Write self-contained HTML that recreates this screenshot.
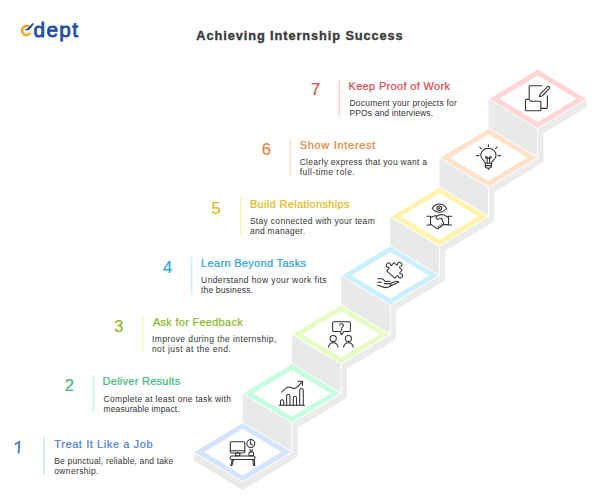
<!DOCTYPE html>
<html><head><meta charset="utf-8"><style>
html,body{margin:0;padding:0;background:#fff;width:600px;height:500px;overflow:hidden;position:relative}
body{font-family:"Liberation Sans",sans-serif}
svg{position:absolute;left:0;top:0}
.num{position:absolute;width:40px;text-align:center;font-size:16.5px;line-height:20px;-webkit-text-stroke:0.2px currentColor}
.ttl{position:absolute;white-space:nowrap;font-size:11px;line-height:14px;-webkit-text-stroke:0.22px currentColor}
.dsc{position:absolute;white-space:nowrap;font-size:8.5px;line-height:10px;color:#333}
.hdr{position:absolute;left:0;width:600px;top:28px;text-align:center;font-size:12.8px;font-weight:bold;color:#3a3a3a;line-height:16px;letter-spacing:0.9px;-webkit-text-stroke:0.35px #3a3a3a}
.logo{position:absolute;left:33.5px;top:17.6px;font-size:20.8px;font-weight:normal;color:#1b4ea6;line-height:24px;letter-spacing:1.35px;-webkit-text-stroke:0.8px #1b4ea6}
</style></head><body>
<svg width="600" height="500" viewBox="0 0 600 500">
<polygon points="537.77,128.44 586.94,98.76 586.94,106.96 543.47,133.20 543.47,162.41 537.77,165.85 537.77,157.65" fill="#ebebeb"/>
<polygon points="488.60,98.76 537.77,128.44 537.77,157.65 488.60,127.97" fill="#e9e9e9"/>
<line x1="537.77" y1="128.44" x2="537.77" y2="157.65" stroke="#fff" stroke-width="1.0"/>
<polygon points="488.60,98.76 537.77,69.08 586.94,98.76 537.77,128.44" fill="#fff" stroke="#fff" stroke-width="1.0" stroke-linejoin="miter"/>
<path d="M489.47,98.76 L537.77,69.61 L586.07,98.76 L537.77,127.91 Z M537.77,122.07 L576.39,98.76 L537.77,75.45 L499.15,98.76 Z" fill="#ffd5d6" fill-rule="evenodd"/>
<polygon points="488.60,187.33 537.77,157.65 537.77,165.85 494.30,192.09 494.30,221.30 488.60,224.74 488.60,216.54" fill="#ebebeb"/>
<polygon points="439.43,157.65 488.60,187.33 488.60,216.54 439.43,186.86" fill="#e9e9e9"/>
<line x1="488.60" y1="187.33" x2="488.60" y2="216.54" stroke="#fff" stroke-width="1.0"/>
<polygon points="439.43,157.65 488.60,127.97 537.77,157.65 488.60,187.33" fill="#fff" stroke="#fff" stroke-width="1.0" stroke-linejoin="miter"/>
<path d="M440.30,157.65 L488.60,128.50 L536.90,157.65 L488.60,186.80 Z M488.60,180.96 L527.22,157.65 L488.60,134.34 L449.98,157.65 Z" fill="#fee2c9" fill-rule="evenodd"/>
<polygon points="439.43,246.22 488.60,216.54 488.60,224.74 445.13,250.98 445.13,280.19 439.43,283.63 439.43,275.43" fill="#ebebeb"/>
<polygon points="390.26,216.54 439.43,246.22 439.43,275.43 390.26,245.75" fill="#e9e9e9"/>
<line x1="439.43" y1="246.22" x2="439.43" y2="275.43" stroke="#fff" stroke-width="1.0"/>
<polygon points="390.26,216.54 439.43,186.86 488.60,216.54 439.43,246.22" fill="#fff" stroke="#fff" stroke-width="1.0" stroke-linejoin="miter"/>
<path d="M391.13,216.54 L439.43,187.39 L487.73,216.54 L439.43,245.69 Z M439.43,239.85 L478.05,216.54 L439.43,193.23 L400.81,216.54 Z" fill="#fff3ad" fill-rule="evenodd"/>
<polygon points="390.26,305.11 439.43,275.43 439.43,283.63 395.96,309.87 395.96,339.08 390.26,342.52 390.26,334.32" fill="#ebebeb"/>
<polygon points="341.09,275.43 390.26,305.11 390.26,334.32 341.09,304.64" fill="#e9e9e9"/>
<line x1="390.26" y1="305.11" x2="390.26" y2="334.32" stroke="#fff" stroke-width="1.0"/>
<polygon points="341.09,275.43 390.26,245.75 439.43,275.43 390.26,305.11" fill="#fff" stroke="#fff" stroke-width="1.0" stroke-linejoin="miter"/>
<path d="M341.96,275.43 L390.26,246.28 L438.56,275.43 L390.26,304.58 Z M390.26,298.74 L428.88,275.43 L390.26,252.12 L351.64,275.43 Z" fill="#cbf0fd" fill-rule="evenodd"/>
<polygon points="341.09,364.00 390.26,334.32 390.26,342.52 346.79,368.76 346.79,397.97 341.09,401.41 341.09,393.21" fill="#ebebeb"/>
<polygon points="291.92,334.32 341.09,364.00 341.09,393.21 291.92,363.53" fill="#e9e9e9"/>
<line x1="341.09" y1="364.00" x2="341.09" y2="393.21" stroke="#fff" stroke-width="1.0"/>
<polygon points="291.92,334.32 341.09,304.64 390.26,334.32 341.09,364.00" fill="#fff" stroke="#fff" stroke-width="1.0" stroke-linejoin="miter"/>
<path d="M292.79,334.32 L341.09,305.17 L389.39,334.32 L341.09,363.47 Z M341.09,357.63 L379.71,334.32 L341.09,311.01 L302.47,334.32 Z" fill="#e6fcc4" fill-rule="evenodd"/>
<polygon points="291.92,422.89 341.09,393.21 341.09,401.41 297.62,427.65 297.62,456.86 291.92,460.30 291.92,452.10" fill="#ebebeb"/>
<polygon points="242.75,393.21 291.92,422.89 291.92,452.10 242.75,422.42" fill="#e9e9e9"/>
<line x1="291.92" y1="422.89" x2="291.92" y2="452.10" stroke="#fff" stroke-width="1.0"/>
<polygon points="242.75,393.21 291.92,363.53 341.09,393.21 291.92,422.89" fill="#fff" stroke="#fff" stroke-width="1.0" stroke-linejoin="miter"/>
<path d="M243.62,393.21 L291.92,364.06 L340.22,393.21 L291.92,422.36 Z M291.92,416.52 L330.54,393.21 L291.92,369.90 L253.30,393.21 Z" fill="#c6fce2" fill-rule="evenodd"/>
<polygon points="242.75,481.78 291.92,452.10 291.92,460.30 242.75,489.98" fill="#ebebeb"/>
<polygon points="193.58,452.10 242.75,481.78 242.75,489.98 193.58,460.30" fill="#e9e9e9"/>
<polygon points="193.58,452.10 242.75,422.42 291.92,452.10 242.75,481.78" fill="#fff" stroke="#fff" stroke-width="1.0" stroke-linejoin="miter"/>
<path d="M194.45,452.10 L242.75,422.95 L291.05,452.10 L242.75,481.25 Z M242.75,475.41 L281.37,452.10 L242.75,428.79 L204.13,452.10 Z" fill="#d4e4fd" fill-rule="evenodd"/>
<g fill="none" stroke="#333" stroke-width="1.05" stroke-linecap="round" stroke-linejoin="round">
<rect x="230.3" y="441.8" width="14.5" height="11.2" rx="1.3"/>
<line x1="230.3" y1="450.7" x2="244.8" y2="450.7"/>
<rect x="235.6" y="453" width="4.2" height="2.8"/>
<circle cx="250.8" cy="443.6" r="4.0"/>
<polyline points="250.6,441.2 250.6,443.8 252.6,445"/>
<rect x="249.0" y="452" width="4.4" height="3.8" rx="0.6"/>
<polyline points="249.8,449.4 251.2,452 252.6,449.4"/>
<rect x="230.2" y="455.9" width="24.7" height="3.5" rx="1.2"/>
<polyline points="232.3,459.4 230.8,465.4 232,465.4 233.6,459.4"/>
<polyline points="252.8,459.4 253.6,465.4 254.8,465.4 254.2,459.4"/>
</g>
<g fill="none" stroke="#333" stroke-width="1.05" stroke-linecap="round" stroke-linejoin="round">
<line x1="279.2" y1="405.3" x2="304.5" y2="405.3"/>
<path d="M280.5,405.3 V401.3 a1.6,1.6 0 0 1 3.2,0 V405.3"/>
<path d="M286.6,405.3 V395.9 a1.7,1.7 0 0 1 3.4,0 V405.3"/>
<path d="M293.3,405.3 V397.8 a1.6,1.6 0 0 1 3.2,0 V405.3"/>
<path d="M299.7,405.3 V390.4 a1.8,1.8 0 0 1 3.6,0 V405.3"/>
<path d="M281.8,392.2 C284,390 286.5,387 289,387 C291,387 292.5,388.8 294.5,388.6 C297,388.4 299.5,384.5 302.3,381.7"/>
<polyline points="297.8,381.2 302.4,381.3 302.4,385.6"/>
</g>
<g fill="none" stroke="#333" stroke-width="1.05" stroke-linecap="round" stroke-linejoin="round">
<path d="M333.8,321.7 H349.2 a1.2,1.2 0 0 1 1.2,1.2 V330.2 a1.2,1.2 0 0 1 -1.2,1.2 H344 L341.2,334.8 L340.4,331.4 H333.8 a1.2,1.2 0 0 1 -1.2,-1.2 V322.9 a1.2,1.2 0 0 1 1.2,-1.2 Z"/>
<path d="M339.8,325.2 C339.8,323.2 343.4,323.2 343.4,325.2 C343.4,326.8 341.6,326.8 341.6,328.3"/>
<circle cx="341.6" cy="329.9" r="0.35" fill="#333"/>
<circle cx="333.2" cy="338.5" r="3.1"/>
<path d="M328.5,347.2 C329.5,341.2 337,341.2 338,347.2"/>
<circle cx="348.4" cy="338.5" r="3.1"/>
<path d="M343.6,347.2 C344.6,341.2 352.2,341.2 353.2,347.2"/>
</g>
<g fill="none" stroke="#333" stroke-width="1.05" stroke-linecap="round" stroke-linejoin="round">
<g transform="translate(394.0,262.7) rotate(42) scale(0.98)">
<path d="M0,0 L3.3,0 C3.6,0 3.8,-0.4 3.5,-0.8 C3.1,-1.3 2.9,-1.8 2.9,-2.3 C2.9,-3.4 3.9,-4.1 5,-4.1 C6.1,-4.1 7.1,-3.4 7.1,-2.3 C7.1,-1.8 6.9,-1.3 6.5,-0.8 C6.2,-0.4 6.4,0 6.7,0 L10,0 L10,3.3 C10,3.6 10.4,3.8 10.8,3.5 C11.3,3.1 11.8,2.9 12.3,2.9 C13.4,2.9 14.1,3.9 14.1,5 C14.1,6.1 13.4,7.1 12.3,7.1 C11.8,7.1 11.3,6.9 10.8,6.5 C10.4,6.2 10,6.4 10,6.7 L10,10 L0,10 L0,6.7 C0,6.4 -0.4,6.2 -0.8,6.5 C-1.3,6.9 -1.8,7.1 -2.3,7.1 C-3.4,7.1 -4.1,6.1 -4.1,5 C-4.1,3.9 -3.4,2.9 -2.3,2.9 C-1.8,2.9 -1.3,3.1 -0.8,3.5 C-0.4,3.8 0,3.6 0,3.3 Z" transform="scale(1.12)" stroke-width="0.9"/>
</g>
<path d="M377.8,278.8 H381.8 C383.2,279 384,280.2 385.2,281.4 L390,281.2"/>
<path d="M377.8,282.3 H381.4"/>
<path d="M377.8,285.2 C380.5,286.2 383.5,287.6 386,287.6 C387.6,287.6 389,286.9 390.4,286 L398.8,282.2 C398.4,281.2 397.2,281 396,281.4 L390.2,283.6 H384.3"/>
<path d="M390.4,286 L391,283.6"/>
</g>
<g fill="none" stroke="#333" stroke-width="1.05" stroke-linecap="round" stroke-linejoin="round">
<path d="M432.2,208.2 C436,202.6 442.6,202.6 446.6,208.2 C442.6,213.6 436,213.6 432.2,208.2 Z"/>
<circle cx="439.3" cy="208.2" r="2.3"/>
<circle cx="439.3" cy="208.2" r="0.5" fill="#333"/>
<path d="M427,216.3 H430.5 M427,224.9 H430.5 M430.5,216.3 V224.9"/>
<path d="M451.6,216.3 H448.5 M451.6,224.9 H448.5 M448.5,216.3 V224.9"/>
<path d="M430.5,217.6 L435.8,215.4"/>
<path d="M448.5,217.4 C446.5,216.5 445,214.9 441.2,214.6 C439.5,214.6 437.5,215.4 436.3,216.6 C435.6,217.4 436.2,219.2 437.6,219.2 C439,219.1 440.5,218.4 441.6,218.3 L444,224.6 H448.5"/>
<path d="M430.5,223.8 L436.8,228.6 C437.2,228.9 437.8,228.9 438.2,228.6 L443.8,224.6"/>
<path d="M438.8,227.5 L438.1,226.4 M440.5,226.3 L439.8,225.2 M442.2,225.1 L441.5,224"/>
</g>
<g fill="none" stroke="#333" stroke-width="1.05" stroke-linecap="round" stroke-linejoin="round">
<path d="M485.3,163.3 C485.3,161 480.8,159.4 480.8,155.6 C480.8,151.2 484,148.3 488.4,148.3 C492.8,148.3 496,151.2 496,155.6 C496,159.4 491.5,161 491.5,163.3 Z"/>
<path d="M485.3,163.3 V166 C485.3,167.6 486.6,168.2 488.4,168.2 C490.2,168.2 491.5,167.6 491.5,166 V163.3"/>
<line x1="485.3" y1="165.6" x2="491.5" y2="165.6"/>
<line x1="488.4" y1="168.4" x2="488.4" y2="169.6"/>
<path d="M487.2,163.3 V157.6 C487.2,156.2 485.6,156.2 485.6,157.4 C485.6,158.4 487.2,158.6 488.4,158.2 C489.6,158.6 491.2,158.4 491.2,157.4 C491.2,156.2 489.6,156.2 489.6,157.6 V163.3"/>
<line x1="488.4" y1="144.6" x2="488.4" y2="146.8"/>
<line x1="476.4" y1="155.6" x2="478.8" y2="155.6"/>
<line x1="498" y1="155.6" x2="500.4" y2="155.6"/>
<line x1="479.6" y1="147" x2="481.4" y2="148.8"/>
<line x1="497.2" y1="147" x2="495.4" y2="148.8"/>
</g>
<g fill="none" stroke="#333" stroke-width="1.1" stroke-linecap="round" stroke-linejoin="round">
<path d="M529.2,98.6 V86.6 a0.9,0.9 0 0 1 0.9,-0.9 H541.6"/>
<path d="M547.4,95.8 V107.5 a0.9,0.9 0 0 1 -0.9,0.9 H541.2"/>
<path d="M525.5,100.4 a1,1 0 0 1 1,-1 H528.6 L531.2,101.2 H539.9 a1,1 0 0 1 1,1 V109.8 a1,1 0 0 1 -1,1 H526.5 a1,1 0 0 1 -1,-1 Z"/>
<path d="M539.4,96.6 L540.2,94.2 L547.4,86.8 a1.3,1.3 0 0 1 1.9,1.9 L542.1,96 Z"/>
</g>
<rect x="43.30" y="436.90" width="1.6" height="38" fill="#d4e4fd"/>
<path d="M15.6,444 C17,443.3 18.4,442.4 19.4,441.7 L18.6,452.8" fill="none" stroke="#4a80dc" stroke-width="1.9" stroke-linecap="round" stroke-linejoin="round"/>
<rect x="92.60" y="374.70" width="1.6" height="38" fill="#c6fce2"/>
<rect x="141.90" y="315.30" width="1.6" height="38" fill="#e6fcc4"/>
<rect x="190.90" y="256.40" width="1.6" height="38" fill="#cbf0fd"/>
<rect x="239.90" y="197.30" width="1.6" height="38" fill="#fff3ad"/>
<rect x="289.50" y="138.30" width="1.6" height="38" fill="#fee2c9"/>
<rect x="338.50" y="79.30" width="1.6" height="38" fill="#ffd5d6"/>
<g>
<path d="M29.5,27.2 A4.5,4.5 0 1 0 30.3,32.9" fill="none" stroke="#f3a51f" stroke-width="2.6" stroke-linecap="butt"/>
<path d="M24.4,29.4 C26.2,30.6 28.4,30.8 30,29 L33.4,24.8 C34.2,23.6 33.2,22.8 32.2,23.6 L29.4,26.4 C27.9,28.3 26.3,29.3 24.4,29.4 Z" fill="#1b4ea6"/>
</g>
</svg>
<div class="logo">dept</div>
<div class="hdr">Achieving Internship Success</div>
<div class="ttl" style="left:54.30px;top:436.63px;color:#4a80dc;letter-spacing:0.589px">Treat It Like a Job</div>
<div class="dsc" style="left:54.30px;top:456.00px;letter-spacing:0.153px">Be punctual, reliable, and take</div>
<div class="dsc" style="left:54.30px;top:465.60px;letter-spacing:0.338px">ownership.</div>
<div class="num" style="left:49.30px;top:374.87px;color:#3dbb7c">2</div>
<div class="ttl" style="left:102.60px;top:374.13px;color:#3dbb7c;letter-spacing:0.257px">Deliver Results</div>
<div class="dsc" style="left:103.60px;top:394.00px;letter-spacing:0.307px">Complete at least one task with</div>
<div class="dsc" style="left:103.60px;top:403.60px;letter-spacing:0.110px">measurable impact.</div>
<div class="num" style="left:98.80px;top:315.64px;color:#8ab72e">3</div>
<div class="ttl" style="left:152.90px;top:314.63px;color:#8ab72e;letter-spacing:0.280px">Ask for Feedback</div>
<div class="dsc" style="left:151.90px;top:334.10px;letter-spacing:0.414px">Improve during the internship,</div>
<div class="dsc" style="left:151.90px;top:343.70px;letter-spacing:0.466px">not just at the end.</div>
<div class="num" style="left:147.60px;top:256.64px;color:#2aa3d6">4</div>
<div class="ttl" style="left:201.10px;top:255.63px;color:#2aa3d6;letter-spacing:0.318px">Learn Beyond Tasks</div>
<div class="dsc" style="left:201.10px;top:275.10px;letter-spacing:0.393px">Understand how your work fits</div>
<div class="dsc" style="left:201.10px;top:284.70px;letter-spacing:0.143px">the business.</div>
<div class="num" style="left:196.20px;top:197.66px;color:#dfba12">5</div>
<div class="ttl" style="left:249.90px;top:196.63px;color:#dfba12;letter-spacing:0.333px">Build Relationships</div>
<div class="dsc" style="left:249.90px;top:216.10px;letter-spacing:0.307px">Stay connected with your team</div>
<div class="dsc" style="left:249.90px;top:225.70px;letter-spacing:0.296px">and manager.</div>
<div class="num" style="left:246.30px;top:138.69px;color:#e5843a">6</div>
<div class="ttl" style="left:299.70px;top:137.63px;color:#e5843a;letter-spacing:0.700px">Show Interest</div>
<div class="dsc" style="left:299.70px;top:157.10px;letter-spacing:0.293px">Clearly express that you want a</div>
<div class="dsc" style="left:299.70px;top:166.70px;letter-spacing:0.456px">full-time role.</div>
<div class="num" style="left:295.60px;top:78.87px;color:#e0484c">7</div>
<div class="ttl" style="left:348.50px;top:78.63px;color:#e0484c;letter-spacing:0.329px">Keep Proof of Work</div>
<div class="dsc" style="left:349.50px;top:98.10px;letter-spacing:0.208px">Document your projects for</div>
<div class="dsc" style="left:349.50px;top:107.70px;letter-spacing:0.121px">PPOs and interviews.</div>
</body></html>
